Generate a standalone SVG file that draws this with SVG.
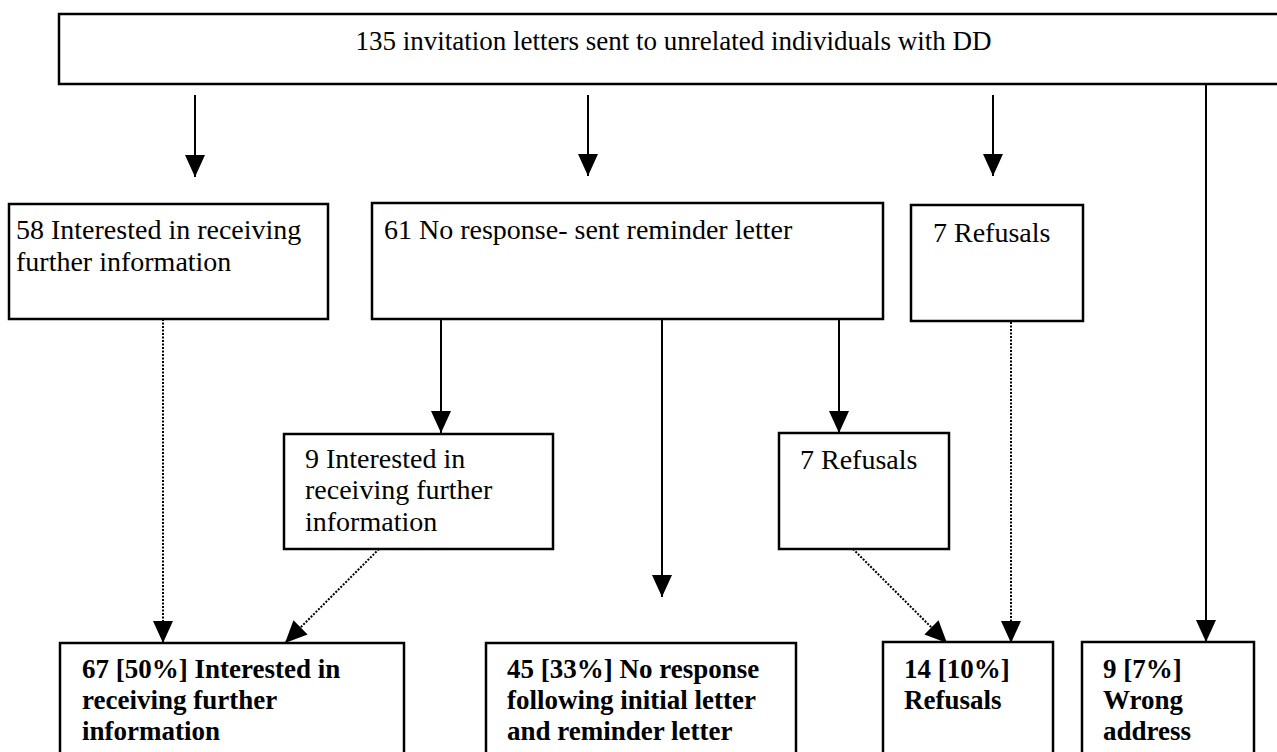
<svg xmlns="http://www.w3.org/2000/svg" width="1277" height="752" viewBox="0 0 1277 752">
<style>
.box{fill:#fff;stroke:#000;stroke-width:2.5}
.t{font-family:"Liberation Serif","Times New Roman",serif;font-size:28px;fill:#000}
.b{font-family:"Liberation Serif","Times New Roman",serif;font-size:27px;font-weight:bold;fill:#000}
.top{font-family:"Liberation Serif","Times New Roman",serif;font-size:27px;fill:#000}
.solid{fill:none;stroke:#000;stroke-width:2}
.dot{fill:none;stroke:#000;stroke-width:2;stroke-dasharray:2 1.5}
</style>
<defs>
<marker id="ah" viewBox="0 0 22 20" refX="22" refY="10" markerWidth="22" markerHeight="20" markerUnits="userSpaceOnUse" orient="auto">
<path d="M0,0 L22,10 L0,20 z" fill="#000"/>
</marker>
</defs>
<rect width="1277" height="752" fill="#fff"/>
<g id="connectors">
<line class="solid" x1="195" y1="95" x2="195" y2="177" marker-end="url(#ah)"/>
<line class="solid" x1="588" y1="95" x2="588" y2="176" marker-end="url(#ah)"/>
<line class="solid" x1="993" y1="95" x2="993" y2="176" marker-end="url(#ah)"/>
<line class="solid" x1="1206" y1="84" x2="1206" y2="642" marker-end="url(#ah)"/>
<line class="solid" x1="441" y1="319" x2="441" y2="433" marker-end="url(#ah)"/>
<line class="solid" x1="839" y1="319" x2="839" y2="433" marker-end="url(#ah)"/>
<line class="solid" x1="662" y1="319" x2="662" y2="597" marker-end="url(#ah)"/>
<line class="dot" x1="163" y1="319" x2="163" y2="643" marker-end="url(#ah)"/>
<line class="dot" x1="379" y1="549" x2="285" y2="643" marker-end="url(#ah)"/>
<line class="dot" x1="853" y1="549" x2="947" y2="643" marker-end="url(#ah)"/>
<line class="dot" x1="1011" y1="322" x2="1011" y2="643" marker-end="url(#ah)"/>
</g>
<g id="n-top">
<rect class="box" x="59" y="14" width="1240" height="70"/>
<text class="top" x="673.5" y="50" text-anchor="middle">135 invitation letters sent to unrelated individuals with DD</text>
</g>
<g id="n-interested1">
<rect class="box" x="9" y="204" width="319" height="115"/>
<text class="t" x="16" y="239">58 Interested in receiving</text>
<text class="t" x="16" y="271">further information</text>
</g>
<g id="n-noresponse1">
<rect class="box" x="372" y="203" width="511" height="116"/>
<text class="t" x="384" y="239">61 No response- sent reminder letter</text>
</g>
<g id="n-refusals1">
<rect class="box" x="911" y="205" width="172" height="116"/>
<text class="t" x="933" y="242">7 Refusals</text>
</g>
<g id="n-interested2">
<rect class="box" x="284" y="434" width="269" height="115"/>
<text class="t" x="305" y="468">9 Interested in</text>
<text class="t" x="305" y="499">receiving further</text>
<text class="t" x="305" y="531">information</text>
</g>
<g id="n-refusals2">
<rect class="box" x="779" y="433" width="170" height="116"/>
<text class="t" x="800" y="469">7 Refusals</text>
</g>
<g id="n-interested-total">
<rect class="box" x="60" y="643" width="344" height="130"/>
<text class="b" x="82" y="678">67 [50%] Interested in</text>
<text class="b" x="82" y="709">receiving further</text>
<text class="b" x="82" y="740">information</text>
</g>
<g id="n-noresponse-total">
<rect class="box" x="486" y="643" width="310" height="130"/>
<text class="b" x="507" y="678">45 [33%] No response</text>
<text class="b" x="507" y="709">following initial letter</text>
<text class="b" x="507" y="740">and reminder letter</text>
</g>
<g id="n-refusals-total">
<rect class="box" x="883" y="642" width="170" height="130"/>
<text class="b" x="904" y="678">14 [10%]</text>
<text class="b" x="904" y="709">Refusals</text>
</g>
<g id="n-wrong-address">
<rect class="box" x="1082" y="642" width="172" height="130"/>
<text class="b" x="1103" y="678">9 [7%]</text>
<text class="b" x="1103" y="709">Wrong</text>
<text class="b" x="1103" y="740">address</text>
</g>
</svg>
